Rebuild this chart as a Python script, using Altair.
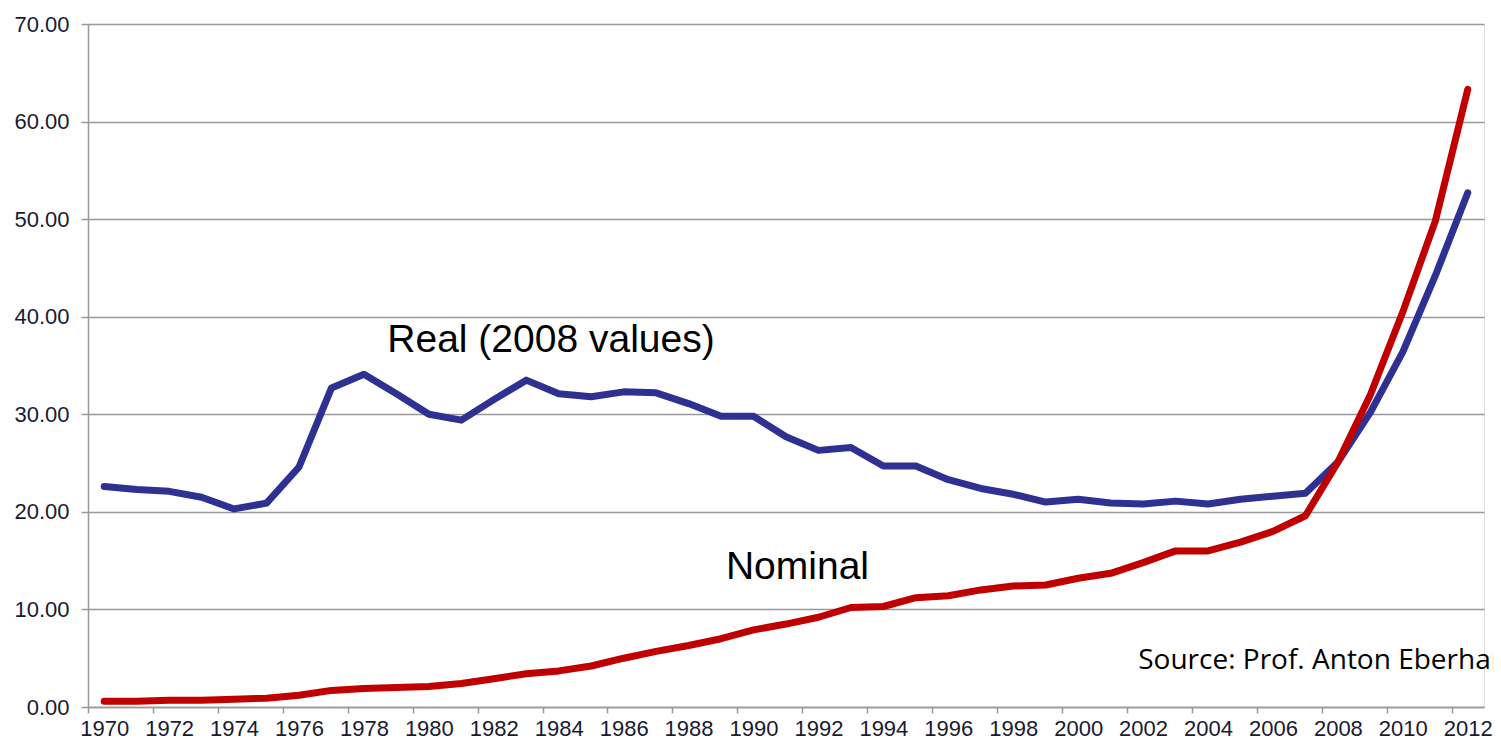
import altair as alt
import pandas as pd

years = list(range(1970, 2013))
real = [22.6, 22.3, 22.1, 21.5, 20.3, 20.9, 24.6, 32.7, 34.1, 32.1, 30.0, 29.4,
        31.5, 33.5, 32.1, 31.8, 32.3, 32.2, 31.1, 29.8, 29.8, 27.7, 26.3, 26.6,
        24.7, 24.7, 23.3, 22.4, 21.8, 21.0, 21.3, 20.9, 20.8, 21.1, 20.8, 21.3,
        21.6, 21.9, 25.1, 30.2, 36.4, 44.2, 52.7]
nominal = [0.6, 0.6, 0.7, 0.7, 0.8, 0.9, 1.2, 1.7, 1.9, 2.0, 2.1, 2.4,
           2.9, 3.4, 3.7, 4.2, 5.0, 5.7, 6.3, 7.0, 7.9, 8.5, 9.2, 10.2,
           10.3, 11.2, 11.4, 12.0, 12.4, 12.5, 13.2, 13.7, 14.8, 16.0, 16.0, 16.9,
           18.0, 19.6, 25.1, 32.0, 40.5, 49.8, 63.3]
series_names = ["Real (2008 values)", "Nominal"]
series_colors = ["#2E3192", "#C00000"]

ann_text = ["Real (2008 values)", "Nominal"]
ann_year = [1978.72, 1989.15]
ann_value = [37.6, 14.3]
source_text = ["Source: Prof. Anton Eberhard"]
source_year = [2001.85]
source_value = [4.7]

tick_vals = [y - 0.5 for y in years] + [years[-1] + 0.5]

df = pd.DataFrame({
    "year": years * 2,
    "value": real + nominal,
    "series": [series_names[0]] * len(years) + [series_names[1]] * len(years),
})

x_scale = alt.Scale(domain=[1969.5, 2012.5], nice=False, zero=False)
y_scale = alt.Scale(domain=[0, 70], nice=False)

lines = alt.Chart(df).mark_line(strokeWidth=7, strokeJoin="round", strokeCap="round").encode(
    x=alt.X("year:Q", scale=x_scale,
            axis=alt.Axis(values=tick_vals, title=None, grid=False,
                          labelExpr="((datum.value + 0.5) % 2 == 0 && datum.value < 2012.6) ? format(datum.value + 0.5, 'd') : ''",
                          labelOffset=16.2, labelFlush=False, labelOverlap=False,
                          tickSize=6, labelPadding=5, labelFontSize=22,
                          labelColor="#1a1a33", labelFont="Liberation Sans",
                          domainColor="#999999", tickColor="#999999",
                          domainWidth=1.5, tickWidth=1.5)),
    y=alt.Y("value:Q", scale=y_scale,
            axis=alt.Axis(values=list(range(0, 71, 10)), format=".2f", title=None,
                          grid=True, gridColor="#999999", gridWidth=1.5,
                          tickSize=7, labelPadding=12, labelFontSize=22,
                          labelColor="#1a1a33", labelFont="Liberation Sans",
                          domainColor="#999999", tickColor="#999999",
                          domainWidth=1.5, tickWidth=1.5)),
    color=alt.Color("series:N", scale=alt.Scale(domain=series_names, range=series_colors), legend=None),
)

ann_df = pd.DataFrame({"year": ann_year, "value": ann_value, "text": ann_text})
ann = alt.Chart(ann_df).mark_text(align="left", baseline="middle", fontSize=39,
                                  font="Liberation Sans", color="#000000").encode(
    x=alt.X("year:Q", scale=x_scale),
    y=alt.Y("value:Q", scale=y_scale),
    text="text:N",
)

src_df = pd.DataFrame({"year": source_year, "value": source_value, "text": source_text})
src = alt.Chart(src_df).mark_text(align="left", baseline="middle", fontSize=28,
                                  font="Open Sans", color="#000000").encode(
    x=alt.X("year:Q", scale=x_scale),
    y=alt.Y("value:Q", scale=y_scale),
    text="text:N",
)

chart = alt.layer(lines, ann, src).properties(
    width=1396, height=683,
    autosize=alt.AutoSizeParams(type="none"),
    padding={"left": 80, "top": 16, "right": 9, "bottom": 32},
).configure_view(stroke=None).configure(background="#ffffff")

chart.save("out.html", embed_options={"renderer": "svg", "actions": False})
